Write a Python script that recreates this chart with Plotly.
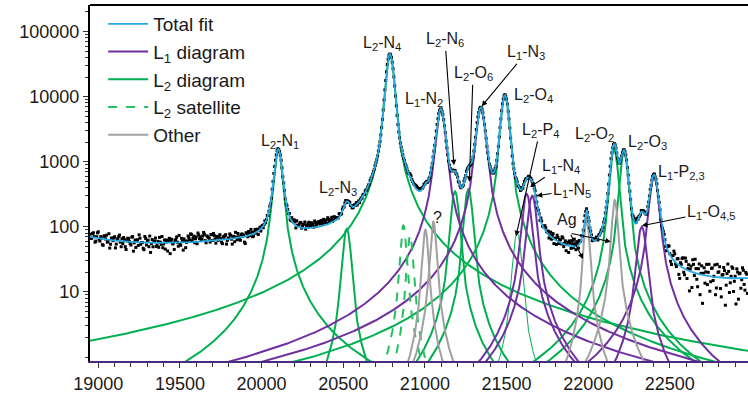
import numpy as np
import plotly.graph_objects as go

# ---------------------------------------------------------------------------
# Fitted line components (Voigt profiles): energy in eV, peak height in counts,
# Lorentzian half width gamma and Gaussian sigma in eV
# ---------------------------------------------------------------------------
peak_names = ["L2-N1", "L2-N3", "L2-N4", "L2-N6", "L2-O6", "L2-O4", "L2-P4", "L2-O2", "L2-O3",
              "L1-N2", "L1-N3", "L1-N4", "L1-N5", "L1-O4,5", "L1-P2,3",
              "L2 sat 1", "L2 sat 2",
              "unknown 1", "unknown 2", "Ag Ka2", "Ag Ka1"]
peak_family = ["L2"] * 9 + ["L1"] * 6 + ["sat"] * 2 + ["other"] * 4
peak_energy = [20102, 20521, 20786, 21184, 21266, 21490, 21565, 22158, 22219,
               21097, 21342, 21623, 21657, 22328, 22403,
               20868, 20909,
               21003, 21052, 21990, 22163]
peak_height = [1500, 93, 45000, 350, 380, 10500, 80, 1550, 1400,
               6300, 6700, 320, 300, 100, 600,
               105, 75,
               90, 120, 130, 260]
peak_gamma = [10, 7.7, 7.7, 7.7, 7.7, 7.7, 7.7, 7.7, 7.7,
              11.3, 11.3, 11.3, 11.3, 11.3, 11.3,
              8, 8,
              8, 8, 8, 8]
peak_sigma = [14, 15, 15, 15, 15, 15, 15, 15, 15,
              15, 15, 15, 15, 15, 15,
              9, 9,
              9, 9, 9, 9]

# Smooth background level (counts) used in the fit
bg_energy = [18950, 19400, 19900, 20400, 21000, 21500, 21900, 22400, 22980]
bg_level = [68, 51, 53, 60, 50, 30, 18, 13, 12]

# Measured spectrum: two interleaved scans in 10 eV steps (starting at 18950 eV
# and 18955 eV), stored as deviations from the fit in units of counting error
meas_step = 10
scan_a_start = 18950
scan_a_z = [
    0.8, -0.3, 1.5, -1.2, 0.4, 2.1, -0.7, 0.2, -1.6, 0.9, 1.3, -0.4, -2.0, 0.6, -0.1, 1.1, -0.9, 0.3, 1.8, -1.4,
    -0.6, 0.5, -1.9, 1.0, 0.1, -0.8, 1.6, -0.2, -1.3, 0.7, 2.3, -0.5, 0.0, -1.7, 1.2, 0.4, -1.0, -2.2, 0.9, 0.3,
    1.4, -0.6, -1.1, 0.2, 1.9, -0.3, -1.5, 0.8, 0.5, -2.4, 1.0, -0.1, 0.6, 1.7, -0.9, -0.4, 1.2, -1.8, 0.3, 0.0,
    1.9, 0.6, 2.4, 1.1, -0.2, 1.5, 2.8, 0.9, 0.3, 1.7, 2.2, -0.4, 1.3, 0.8, 2.0, 0.1, 1.6, -0.7, 0.9, 1.2,
    0.4, -1.0, 0.7, 1.5, -0.3, 0.2, 1.1, -1.4, 0.6, 1.9, -0.5, 0.3, -0.8, 1.0, 0.5, -1.9, 0.8, 1.3, -0.2, 0.6,
    -0.7, 1.2, 0.3, -1.1, 0.9, 0.4, -0.6, 1.0, 0.2, -0.3, 0.7, -0.9, 0.5, 0.1, -0.4, 0.6, -0.2, 0.8, -1.0, 0.3,
    -0.5, 0.9, 1.4, -0.2, 0.6, 1.8, -0.8, 0.4, 1.1, 2.0, 0.7, 1.5, -0.3, 1.2, 2.3, 0.9, 1.6, 0.2, 1.9, 1.3,
    2.1, 0.8, 1.7, 2.5, 1.0, 0.4, 1.8, 1.2, 2.2, 0.6, 1.4, 0.9, 0.3, 1.1, -0.2, 0.7, 0.5, -0.6, 0.2, 0.8,
    0.4, -0.3, 0.9, 1.3, 0.1, -0.7, 0.6, 1.0, -0.4, 0.5, 0.2, -0.8, 0.7, 0.3, -0.2, 0.4, -0.5, 0.6, 0.1, -0.3,
    0.2, -0.6, 0.4, 0.8, -0.3, 0.5, -0.9, 0.3, 0.7, -0.2, 0.9, 1.1, -0.4, 0.6, 1.4, 0.2, 1.7, 0.8, 1.2, 1.9,
    2.2, 1.5, 0.9, 1.3, 0.4, -0.2, 0.6, 0.1, -0.5, 0.3, 0.7, -0.3, 0.2, -0.6, 0.5, 0.8, -0.1, 0.4, -0.7, 0.3,
    0.6, -0.4, 0.9, 0.2, -0.8, 0.5, 1.1, -0.2, 0.3, 0.7, -0.5, 0.4, 0.1, -0.3, 0.6, 0.2, -0.1, 0.5, -0.4, 0.2,
    -0.3, 0.4, 0.8, -0.6, 0.2, 1.0, 0.5, -0.2, 0.7, 0.3, -0.5, 0.6, 0.1, -0.4, 0.9, 0.2, -0.7, 0.4, 0.6, -0.1,
    0.5, 1.1, -0.3, 0.7, 0.2, -0.6, 0.9, 0.4, -0.2, 1.3, 0.6, -0.8, 0.3, 1.0, -0.4, 0.8, 1.5, -0.1, 0.6, 1.2,
    0.3, -0.9, 1.4, 0.7, -1.2, 0.5, 1.8, -0.4, 0.9, 2.0, -0.6, 1.1, 0.2, -1.5, 0.8, 1.6, -0.3, 0.4, 1.2, -0.7,
    0.6, 1.0, -0.2, 0.5, 0.9, -0.4, 0.3, 0.7, -0.1, 0.4, 0.8, -0.5, 0.2, 0.6, -0.3, 0.1, 0.5, -0.2, 0.3, 0.4,
    -0.2, 0.3, 0.1, -0.4, 0.5, 0.2, -0.3, 0.6, 0.4, -0.1, 0.7, 0.9, -0.5, 1.2, 0.8, 1.5, 0.3, -0.6, 0.4, 0.9,
    0.5, -0.3, 0.2, 0.6, -0.1, 0.3, -0.4, 0.4, 0.1, 0.7, -0.5, 1.1, 0.6, -0.8, 1.4, 0.2, -1.3, 0.9, 1.7, -0.6,
    1.2, -1.8, 0.5, 2.1, -0.9, 1.6, 0.3, -2.3, 1.0, 2.5, -0.4, 0.8, -1.6, 1.9, 0.2, -2.7, 1.3, 0.6, -1.1, 2.2,
    -0.7, 1.5, 0.1, -1.9, 2.4, 0.9, -1.3, 0.4, 1.8, -2.5, 0.7, 1.1, -0.6, 2.0, -1.5, 0.3, 1.6, -2.1, 0.8, -0.2,
    1.3, -1.4, 0.6, -0.9,
]
scan_b_start = 18955
scan_b_z = [
    -0.4, 1.2, 0.3, -0.9, 1.7, -0.2, 0.6, -1.5, 1.0, 0.1, -0.7, 1.9, -1.1, 0.4, 0.8, -1.8, 0.5, 1.3, -0.3, 0.7,
    1.1, -1.3, 0.2, 0.9, -0.5, 1.4, -2.1, 0.6, 0.3, -0.8, 1.2, 0.0, -1.4, 1.8, -0.6, 0.7, 2.0, -0.2, -1.0, 0.5,
    -0.9, 0.4, 1.6, -0.4, -1.2, 0.8, 0.2, -1.9, 1.3, 0.6, -0.3, -1.6, 0.9, 0.1, 2.2, -0.7, 0.3, 1.0, -1.3, 0.4,
    1.3, 2.6, 0.4, 1.8, 0.9, -0.5, 2.1, 1.4, 0.7, 2.9, 0.2, 1.6, 1.0, -0.3, 1.9, 2.3, 0.5, 1.2, 0.0, 1.7,
    -0.6, 0.9, 1.2, -1.2, 0.4, 1.6, -0.1, 0.7, -0.9, 0.3, 1.4, -0.4, 0.8, 0.2, -1.5, 1.1, -0.3, 0.6, 1.8, -0.8,
    0.5, -0.2, 0.8, 0.3, -0.7, 0.6, 0.1, -0.4, 0.9, 0.2, -0.6, 0.4, 0.7, -0.3, 0.2, -0.5, 0.6, 0.1, 0.4, -0.8,
    1.1, 0.3, -0.4, 1.6, 0.8, 1.2, 2.1, 0.5, 1.7, -0.1, 1.4, 2.4, 0.9, 1.8, 0.6, 2.0, 1.1, 2.6, 0.7, 1.5,
    1.2, 2.3, 0.5, 1.6, 1.9, 2.7, 0.8, 1.5, 0.3, 2.0, 1.1, 0.6, 1.7, 0.2, 0.9, -0.4, 1.0, 0.3, 0.6, -0.1,
    -0.5, 0.6, 0.2, -0.4, 0.8, 0.4, -0.2, 0.5, 0.9, -0.6, 0.3, 0.7, -0.1, 0.4, 0.6, -0.3, 0.2, -0.7, 0.5, 0.3,
    0.6, 0.1, -0.5, 0.3, 0.9, -0.2, 0.4, 0.8, -0.4, 0.6, 1.2, 0.3, 0.9, 1.6, 0.5, 1.3, 2.0, 1.0, 1.5, 2.4,
    1.8, 1.1, 1.6, 0.6, 0.9, 0.2, -0.3, 0.5, 0.1, -0.4, 0.6, 0.2, -0.2, 0.4, 0.1, -0.5, 0.3, 0.7, 0.2, -0.3,
    0.3, 0.7, -0.2, 0.5, 0.4, -0.6, 0.2, 0.8, -0.3, 0.1, 0.6, -0.2, 0.3, 0.5, -0.4, 0.1, 0.4, -0.2, 0.6, 0.0,
    0.2, -0.5, 0.6, 0.3, -0.2, 0.7, 0.1, 0.4, -0.6, 0.5, 0.2, -0.3, 0.8, 0.3, -0.1, 0.6, 0.2, -0.4, 0.1, 0.5,
    -0.2, 0.8, 0.4, -0.5, 1.0, 0.3, 0.6, -0.3, 1.2, 0.5, -0.1, 0.9, 1.4, 0.2, 0.7, -0.6, 1.1, 0.4, 1.6, 0.3,
    1.0, 0.2, -0.6, 1.5, 0.4, -1.0, 1.2, 0.6, -0.2, 1.7, 0.3, -1.3, 0.9, 1.4, -0.5, 0.7, 2.1, -0.8, 0.5, 1.1,
    0.2, -0.3, 0.7, 0.4, -0.1, 0.6, 0.9, -0.4, 0.5, 0.2, -0.2, 0.6, 0.3, -0.5, 0.4, 0.7, -0.1, 0.2, 0.5, -0.3,
    0.4, 0.1, -0.2, 0.5, 0.3, -0.4, 0.6, 0.2, 0.9, 0.4, 1.1, -0.3, 0.8, 1.3, 0.5, 0.2, -0.4, 0.6, 0.1, 0.7,
    -0.2, 0.6, 0.3, -0.5, 0.4, 0.8, 0.1, -0.3, 0.9, -0.6, 0.5, 1.3, -0.4, 0.7, 1.8, -1.0, 0.6, 2.2, -0.3, 1.0,
    -1.4, 0.7, 1.8, -0.6, 2.3, -1.2, 1.1, 0.4, -1.9, 1.5, 2.8, -0.8, 0.9, -2.2, 1.6, 0.3, -1.0, 2.1, 0.6, -1.7,
    1.4, -0.5, 2.2, -1.3, 0.8, 1.9, -2.0, 0.5, 1.2, -0.9, 2.6, -1.6, 0.3, 1.7, -0.4, -2.4, 1.0, 0.7, -1.2, 1.8,
    -0.8, 0.9, -1.7, 0.4,
]

# Axis ticks
x_ticks = [19000, 19500, 20000, 20500, 21000, 21500, 22000, 22500]
y_ticks = [10, 100, 1000, 10000, 100000]

FAMILY_STYLE = {
    "L1": dict(name="L<sub>1</sub> diagram", color="#7030A0", dash="solid", rank=2),
    "L2": dict(name="L<sub>2</sub> diagram", color="#00B050", dash="solid", rank=3),
    "sat": dict(name="L<sub>2</sub> satellite", color="#22C060", dash="dash", rank=4),
    "other": dict(name="Other", color="#A0A0A0", dash="solid", rank=5),
}

# ---------------------------------------------------------------------------
# Model evaluation on a 1 eV grid
# ---------------------------------------------------------------------------
grid = np.arange(18600.0, 23401.0, 1.0)


def voigt_profile(center, gamma, sigma):
    lor = gamma ** 2 / ((grid - center) ** 2 + gamma ** 2)
    half = int(np.ceil(6 * sigma))
    kx = np.arange(-half, half + 1, 1.0)
    kern = np.exp(-0.5 * (kx / sigma) ** 2)
    prof = np.convolve(lor, kern / kern.sum(), mode="same")
    return prof / prof.max()


components = [h * voigt_profile(c, g, s)
              for c, h, g, s in zip(peak_energy, peak_height, peak_gamma, peak_sigma)]

t_bg = (np.array(bg_energy) - 21000.0) / 1000.0
bg_coef = np.polyfit(t_bg, np.log(bg_level), 4)
background = np.exp(np.polyval(bg_coef, (grid - 21000.0) / 1000.0))

total_fit = background + np.sum(components, axis=0)

x_lo, x_hi = 18949.2, 22978.6
view = (grid >= x_lo - 2) & (grid <= x_hi + 2)
sub = view & (np.mod(grid, 2) == 0)


def scan_counts(start, z):
    energy = start + meas_step * np.arange(len(z))
    fit = np.interp(energy, grid, total_fit)
    return energy, np.clip(fit + np.array(z) * np.sqrt(fit), 1.0, None)


ea, ca = scan_counts(scan_a_start, scan_a_z)
eb, cb = scan_counts(scan_b_start, scan_b_z)
meas_energy = np.concatenate([ea, eb])
meas_counts = np.concatenate([ca, cb])
keep = meas_energy <= x_hi
meas_energy, meas_counts = meas_energy[keep], meas_counts[keep]

# ---------------------------------------------------------------------------
# Figure
# ---------------------------------------------------------------------------
fig = go.Figure()

shown = set()
for name, fam, comp in zip(peak_names, peak_family, components):
    st = FAMILY_STYLE[fam]
    fig.add_trace(go.Scatter(
        x=grid[sub], y=comp[sub], mode="lines",
        line=dict(color=st["color"], width=1.0 if name == "L2-P4" else 2.0, dash=st["dash"]),
        name=st["name"], legendgroup=fam, legendrank=st["rank"],
        showlegend=fam not in shown, hoverinfo="skip",
    ))
    shown.add(fam)

fig.add_trace(go.Scatter(
    x=meas_energy, y=meas_counts, mode="markers",
    marker=dict(symbol="square", size=3, color="black"),
    name="Data", showlegend=False,
))

fig.add_trace(go.Scatter(
    x=grid[sub], y=total_fit[sub], mode="lines",
    line=dict(color="#29A9E1", width=1.8),
    name="Total fit", legendrank=1,
))

# Peak labels: (text, label energy, label counts, arrow-tip energy, arrow-tip counts)
labels = [
    ("L<sub>2</sub>-N<sub>1</sub>", 20113, 2060, None, None),
    ("L<sub>2</sub>-N<sub>3</sub>", 20465, 394, None, None),
    ("L<sub>2</sub>-N<sub>4</sub>", 20740, 64900, None, None),
    ("L<sub>1</sub>-N<sub>2</sub>", 20995, 9040, None, None),
    ("L<sub>2</sub>-N<sub>6</sub>", 21123, 74600, 21178, 885),
    ("L<sub>2</sub>-O<sub>6</sub>", 21295, 22500, 21272, 491),
    ("L<sub>1</sub>-N<sub>3</sub>", 21619, 47200, 21348, 7130),
    ("L<sub>2</sub>-O<sub>4</sub>", 21662, 10400, None, None),
    ("L<sub>2</sub>-P<sub>4</sub>", 21705, 3030, 21558, 72),
    ("L<sub>1</sub>-N<sub>4</sub>", 21834, 853, 21644, 407),
    ("L<sub>1</sub>-N<sub>5</sub>", 21901, 366, 21685, 300),
    ("L<sub>2</sub>-O<sub>2</sub>", 22041, 2630, None, None),
    ("L<sub>2</sub>-O<sub>3</sub>", 22366, 1990, None, None),
    ("L<sub>1</sub>-P<sub>2,3</sub>", 22574, 692, None, None),
    ("L<sub>1</sub>-O<sub>4,5</sub>", 22752, 169, 22328, 104),
    ("Ag", 21870, 131, None, None),
    ("?", 21079, 141, None, None),
]

annotations = []
for text, ex, cy, tx, ty in labels:
    if tx is None:
        annotations.append(dict(x=ex, y=np.log10(cy), text=text, showarrow=False,
                                xref="x", yref="y"))
    else:
        annotations.append(dict(x=tx, y=np.log10(ty), ax=ex, ay=np.log10(cy),
                                axref="x", ayref="y", xref="x", yref="y", text=text,
                                showarrow=True, arrowhead=2, arrowsize=1, arrowwidth=1.1,
                                arrowcolor="black"))

# Ag arrows share one starting point below the label
for tx, ty in [(21968, 32), (22139, 59)]:
    annotations.append(dict(x=tx, y=np.log10(ty), ax=21889, ay=np.log10(80),
                            axref="x", ayref="y", xref="x", yref="y", text="",
                            showarrow=True, arrowhead=2, arrowsize=1, arrowwidth=1.1,
                            arrowcolor="black"))

for a in annotations:
    a["font"] = dict(family="Liberation Sans, Arial, sans-serif", size=16, color="#1a1a1a")

minor_y = [m * 10 ** d for d in range(0, 6) for m in range(1, 10) if m > 1 or d == 0]

fig.update_layout(
    width=748, height=394,
    margin=dict(l=90, r=0, t=5, b=31),
    paper_bgcolor="white", plot_bgcolor="white",
    font=dict(family="Liberation Sans, Arial, sans-serif", color="#1a1a1a"),
    showlegend=True,
    legend=dict(x=0.02, y=1.0, xanchor="left", yanchor="top",
                bgcolor="rgba(0,0,0,0)", font=dict(size=19), tracegroupgap=0,
                itemwidth=40),
    annotations=annotations,
    xaxis=dict(range=[x_lo, x_hi], tickvals=x_ticks, ticktext=[str(v) for v in x_ticks],
               ticks="outside", ticklen=5,
               tickwidth=1, tickcolor="#333", showline=True, linecolor="#4b2a7e",
               linewidth=2, mirror=False, showgrid=False, zeroline=False,
               tickfont=dict(size=18),
               minor=dict(dtick=100, ticks="outside", ticklen=4, tickcolor="#333",
                          showgrid=False)),
    yaxis=dict(type="log", range=[-0.061, 5.408], tickvals=y_ticks,
               ticktext=[str(v) for v in y_ticks], ticks="outside",
               ticklen=5, tickwidth=1, tickcolor="#333", showline=True, linecolor="black",
               linewidth=2, showgrid=False, zeroline=False, tickfont=dict(size=18),
               minor=dict(tickmode="array", tickvals=minor_y, ticks="outside",
                          ticklen=3, tickcolor="#333", showgrid=False)),
    shapes=[dict(type="line", xref="paper", yref="paper", x0=0, x1=1, y0=1, y1=1,
                 line=dict(color="black", width=2))],
)

fig.write_html("out.html")
